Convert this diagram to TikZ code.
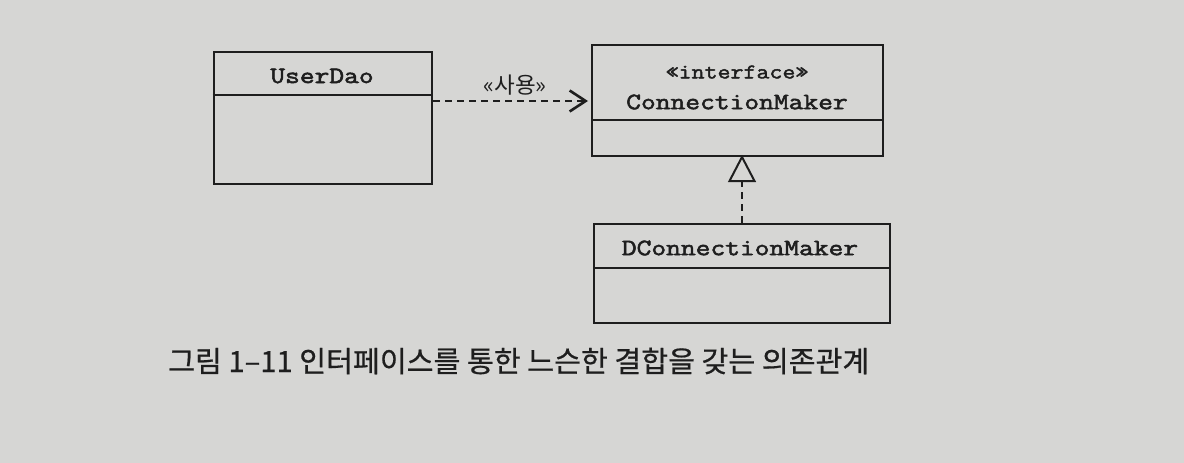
\documentclass[tikz,border=0pt]{standalone}
\usepackage{fontspec}
\newfontfamily\umlfont{Latin Modern Mono}[FakeBold=2.3, FakeStretch=1.22]
\newfontfamily\umlstfont{Latin Modern Mono}[FakeBold=2.0, FakeStretch=1.2]
\newfontfamily\krfont{Noto Sans CJK KR}[FakeBold=0.6]
\newfontfamily\krlfont{Noto Sans CJK KR}
\usetikzlibrary{arrows.meta}
\definecolor{paper}{RGB}{214,214,212}
\definecolor{ink}{RGB}{30,30,30}
\begin{document}
\begin{tikzpicture}[x=1pt,y=-1pt,
  umlbox/.style={draw=ink, line width=2pt, rectangle, inner sep=0pt},
  divline/.style={draw=ink, line width=2pt},
  cname/.style={font=\fontsize{23.5}{26}\umlfont, text=ink, inner sep=0pt},
  stereo/.style={font=\fontsize{21}{23}\umlstfont, text=ink, inner sep=0pt},
  dep/.style={draw=ink, line width=2.6pt, dash pattern=on 7pt off 5pt},
  krlabel/.style={font=\fontsize{22.5}{24}\krlfont, text=ink, inner sep=0pt},
  caption/.style={font=\fontsize{29.2}{31}\krfont, text=ink, inner sep=0pt, anchor=west}
]
\fill[paper] (0,0) rectangle (1184,463);
\useasboundingbox (0,0) rectangle (1184,463);

% UserDao: 213.5..432 x 52..184
\node[umlbox, minimum width=218.5pt, minimum height=132pt] (ud) at (322.75,118) {};
\draw[divline] (ud.west |- 0,95) -- (ud.east |- 0,95);
\node[cname] (udname) at (322,76) {UserDao};

% ConnectionMaker: 592..883 x 45..156
\node[umlbox, minimum width=291pt, minimum height=111pt] (cm) at (737.5,100.5) {};
\draw[divline] (cm.west |- 0,120) -- (cm.east |- 0,120);
\node[stereo] (cmst) at (737,72) {«interface»};
\node[cname] (cmname) at (737,102) {ConnectionMaker};

% DConnectionMaker: 594..890 x 223.5..322.5
\node[umlbox, minimum width=296pt, minimum height=99pt] (dcm) at (742,273) {};
\draw[divline] (dcm.west |- 0,268) -- (dcm.east |- 0,268);
\node[cname] (dcmname) at (740,248) {DConnectionMaker};

% dependency arrow
\coordinate (a1) at (ud.east |- 0,101);
\coordinate (a2) at (cm.west |- 0,101);
\draw[dep, -{Straight Barb[length=16pt,width=21pt,line width=2.6pt]}] (a1) -- ([xshift=-3pt]a2);
\node[krlabel] (use) at (515,85) {«사용»};

% realization
\coordinate (tapex) at (742,157);
\coordinate (tbase) at (742,181);
\draw[dep, line width=2.2pt, dash pattern=on 7pt off 5pt] (dcm.north -| tbase) -- (tbase);
\draw[ink, line width=2pt, line join=miter] (tapex) -- (754.5,181) -- (729.5,181) -- cycle;

% caption
\node[caption] (cap) at (168,361) {그림 1–11 인터페이스를 통한 느슨한 결합을 갖는 의존관계};
\end{tikzpicture}
\end{document}
